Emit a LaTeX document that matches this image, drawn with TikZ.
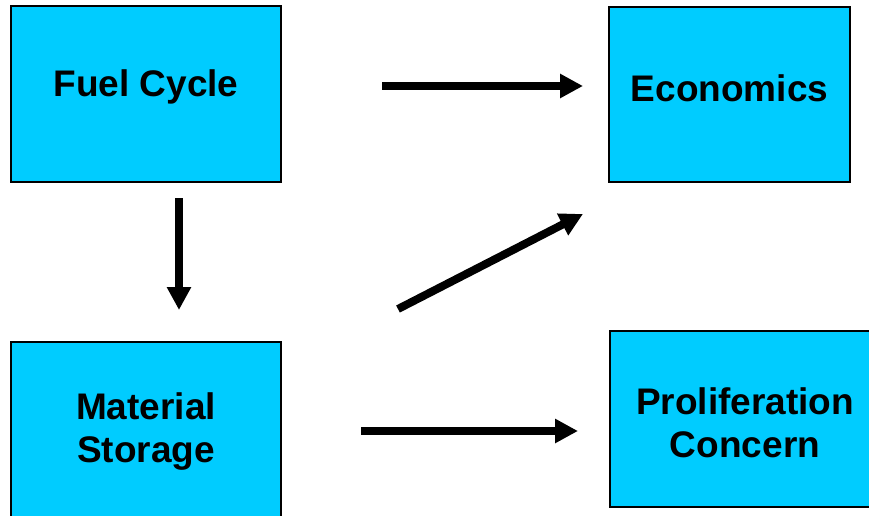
\documentclass[tikz,border=0pt]{standalone}
\usepackage{fontspec}
\setmainfont{Liberation Sans}
\usetikzlibrary{arrows.meta}
\definecolor{boxfill}{RGB}{0,204,255}
\begin{document}
\begin{tikzpicture}[x=1pt,y=-1pt,
  box/.style={draw=black,line width=1.3pt,fill=boxfill,inner sep=0pt,
    font=\fontsize{37}{43}\selectfont\bfseries,align=center},
  flow/.style={line width=8pt,-{Triangle[length=23pt,width=23pt]}}]
\useasboundingbox (0,0) rectangle (869,516);
\node[box,minimum width=270pt,minimum height=176pt] (fc) at (146,94) {\raisebox{-3pt}[0pt][0pt]{Fuel Cycle}};
\node[box,minimum width=241pt,minimum height=175pt] (ec) at (729.5,94.5) {\raisebox{-7.5pt}[0pt][0pt]{Economics}};
\node[box,minimum width=270pt,minimum height=176pt] (ms) at (146,430) {\raisebox{-32pt}[0pt][0pt]{\begin{tabular}[b]{@{}c@{}}Material\\Storage\end{tabular}}};
\node[box,minimum width=270pt,minimum height=176pt] (pc) at (745,419) {\raisebox{-38pt}[0pt][0pt]{\begin{tabular}[b]{@{}c@{}}Proliferation\\Concern\end{tabular}}};
\coordinate (a1) at (382,86);
\coordinate (b1) at (583,86);
\coordinate (a2) at (179,198);
\coordinate (b2) at (179,310);
\coordinate (a3) at (398,309);
\coordinate (b3) at (583,214);
\coordinate (a4) at (361,431);
\coordinate (b4) at (578,431);
\draw[flow] (a1) -- (b1);
\draw[flow] (a2) -- (b2);
\draw[flow] (a3) -- (b3);
\draw[flow] (a4) -- (b4);
\end{tikzpicture}
\end{document}
